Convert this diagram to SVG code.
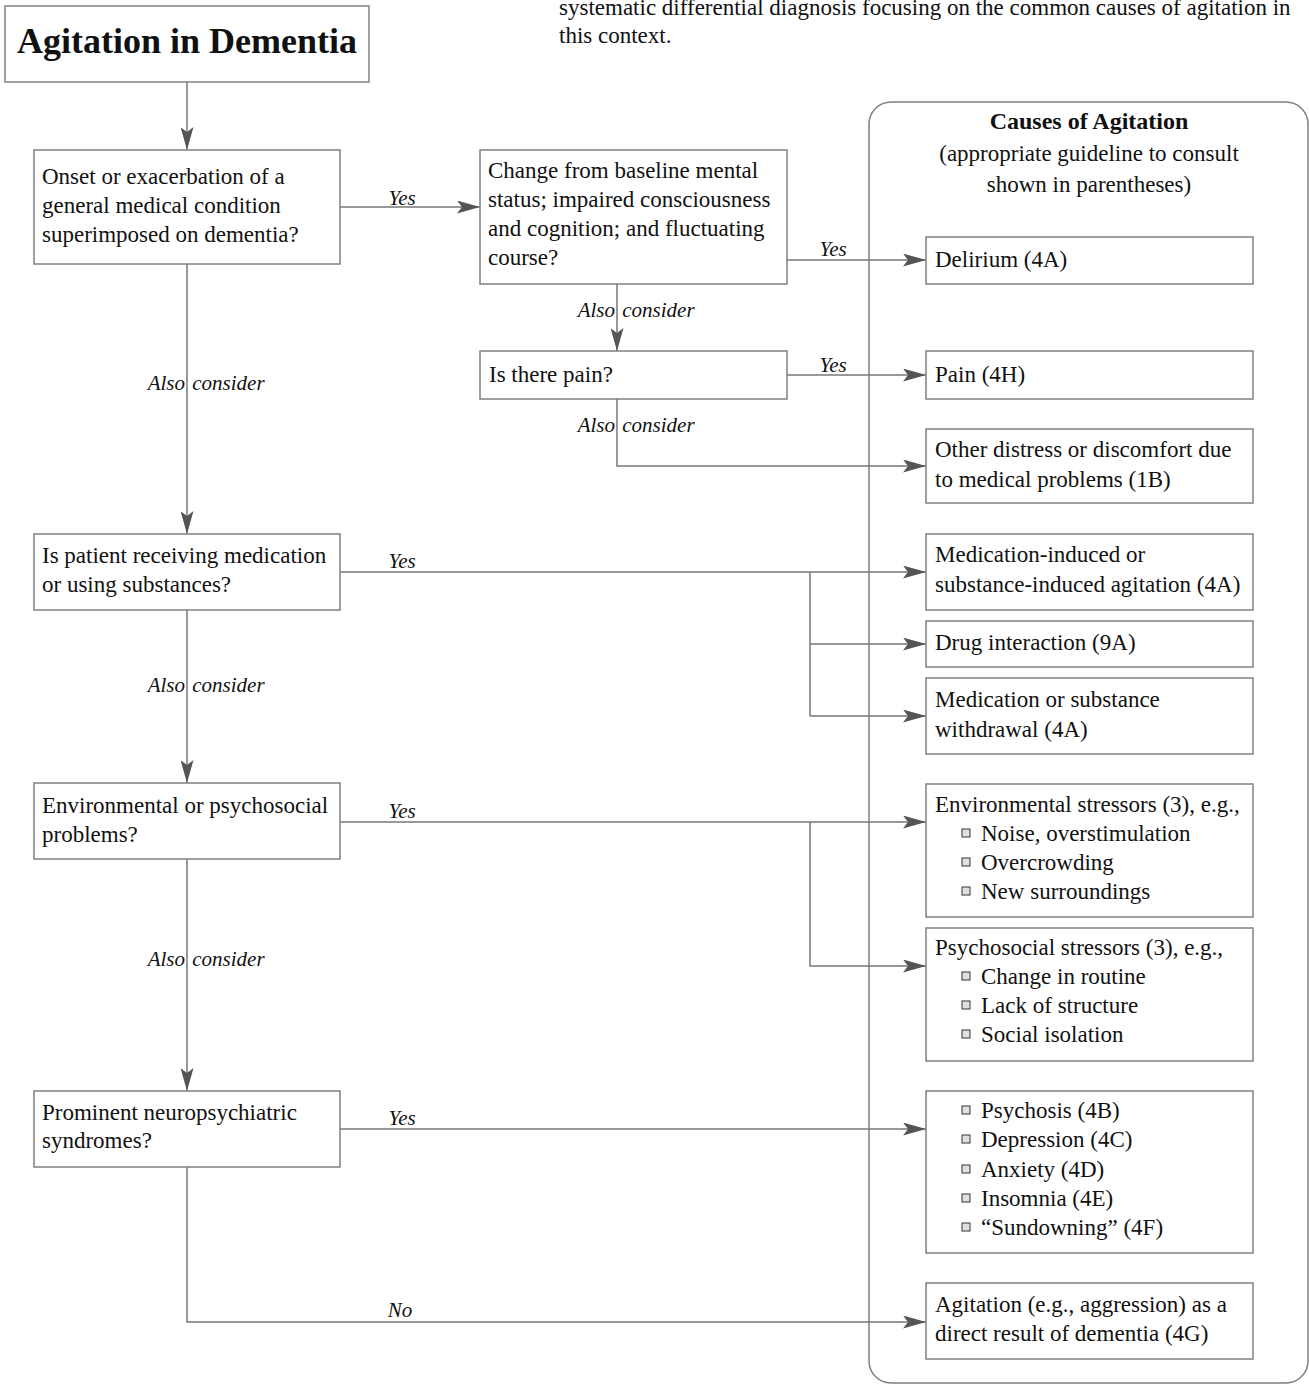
<svg xmlns="http://www.w3.org/2000/svg" width="1309" height="1385" viewBox="0 0 1309 1385">
<style>
.bg{fill:#fff}
.box{fill:#fff;stroke:#808080;stroke-width:1.5}
.panel{fill:none;stroke:#808080;stroke-width:1.5}
.t{font-family:"Liberation Serif","Times New Roman",serif;font-size:23px;fill:#111}
.title{font-family:"Liberation Serif","Times New Roman",serif;font-size:36px;font-weight:bold;fill:#111}
.hd{font-family:"Liberation Serif","Times New Roman",serif;font-size:24px;font-weight:bold;fill:#111}
.lbl{font-family:"Liberation Serif","Times New Roman",serif;font-size:21px;font-style:italic;fill:#111}
.c{fill:none;stroke:#777;stroke-width:1.5}
.bul{fill:#e0e0e0;stroke:#333;stroke-width:1}
</style>
<defs>
<marker id="ah" markerUnits="userSpaceOnUse" viewBox="0 0 23 13" refX="23" refY="6.5" markerWidth="23" markerHeight="13" orient="auto">
<path d="M0,0 L23,6.5 L0,13 L5,6.5 Z" fill="#555"/>
</marker>
</defs>
<rect class="bg" x="0" y="0" width="1309" height="1385"/>

<g id="intro">
<text class="t" x="559" y="15">systematic differential diagnosis focusing on the common causes of agitation in</text>
<text class="t" x="559" y="43">this context.</text>
</g>

<g id="panel">
<rect class="panel" x="869" y="102" width="439" height="1281" rx="22" ry="22"/>
<text class="hd" x="1089" y="129" text-anchor="middle">Causes of Agitation</text>
<text class="t" x="1089" y="161" text-anchor="middle">(appropriate guideline to consult</text>
<text class="t" x="1089" y="192" text-anchor="middle">shown in parentheses)</text>
</g>

<g id="connectors">
<path class="c" d="M187,82 V150" marker-end="url(#ah)"/>
<path class="c" d="M340,207 H480" marker-end="url(#ah)"/>
<path class="c" d="M787,260 H926" marker-end="url(#ah)"/>
<path class="c" d="M617,284 V351" marker-end="url(#ah)"/>
<path class="c" d="M787,375 H926" marker-end="url(#ah)"/>
<path class="c" d="M617,399 V466 H926" marker-end="url(#ah)"/>
<path class="c" d="M187,264 V534" marker-end="url(#ah)"/>
<path class="c" d="M340,572 H926" marker-end="url(#ah)"/>
<path class="c" d="M810,572 V716"/>
<path class="c" d="M810,644 H926" marker-end="url(#ah)"/>
<path class="c" d="M810,716 H926" marker-end="url(#ah)"/>
<path class="c" d="M187,610 V783" marker-end="url(#ah)"/>
<path class="c" d="M340,822 H926" marker-end="url(#ah)"/>
<path class="c" d="M810,822 V966 H926" marker-end="url(#ah)"/>
<path class="c" d="M187,859 V1091" marker-end="url(#ah)"/>
<path class="c" d="M340,1129 H926" marker-end="url(#ah)"/>
<path class="c" d="M187,1167 V1322 H926" marker-end="url(#ah)"/>
<text class="lbl" x="402" y="205" text-anchor="middle">Yes</text>
<text class="lbl" x="833" y="256" text-anchor="middle">Yes</text>
<text class="lbl" x="833" y="372" text-anchor="middle">Yes</text>
<text class="lbl" x="402" y="568" text-anchor="middle">Yes</text>
<text class="lbl" x="402" y="818" text-anchor="middle">Yes</text>
<text class="lbl" x="402" y="1125" text-anchor="middle">Yes</text>
<text class="lbl" x="400" y="1317" text-anchor="middle">No</text>
<text class="lbl" y="317"><tspan x="615" text-anchor="end">Also</tspan><tspan x="617"> consider</tspan></text>
<text class="lbl" y="432"><tspan x="615" text-anchor="end">Also</tspan><tspan x="617"> consider</tspan></text>
<text class="lbl" y="390"><tspan x="185" text-anchor="end">Also</tspan><tspan x="187"> consider</tspan></text>
<text class="lbl" y="692"><tspan x="185" text-anchor="end">Also</tspan><tspan x="187"> consider</tspan></text>
<text class="lbl" y="966"><tspan x="185" text-anchor="end">Also</tspan><tspan x="187"> consider</tspan></text>
</g>

<g id="n-title">
<rect class="box" x="5" y="6" width="364" height="76"/>
<text class="title" x="187" y="53" text-anchor="middle">Agitation in Dementia</text>
</g>

<g id="n-medical">
<rect class="box" x="34" y="150" width="306" height="114"/>
<text class="t" x="42" y="184">Onset or exacerbation of a</text>
<text class="t" x="42" y="213">general medical condition</text>
<text class="t" x="42" y="242">superimposed on dementia?</text>
</g>

<g id="n-change">
<rect class="box" x="480" y="150" width="307" height="134"/>
<text class="t" x="488" y="178">Change from baseline mental</text>
<text class="t" x="488" y="207">status; impaired consciousness</text>
<text class="t" x="488" y="236">and cognition; and fluctuating</text>
<text class="t" x="488" y="265">course?</text>
</g>

<g id="n-painq">
<rect class="box" x="480" y="351" width="307" height="48"/>
<text class="t" x="489" y="382">Is there pain?</text>
</g>

<g id="n-medication">
<rect class="box" x="34" y="534" width="306" height="76"/>
<text class="t" x="42" y="563">Is patient receiving medication</text>
<text class="t" x="42" y="592">or using substances?</text>
</g>

<g id="n-environment">
<rect class="box" x="34" y="783" width="306" height="76"/>
<text class="t" x="42" y="813">Environmental or psychosocial</text>
<text class="t" x="42" y="842">problems?</text>
</g>

<g id="n-neuro">
<rect class="box" x="34" y="1091" width="306" height="76"/>
<text class="t" x="42" y="1120">Prominent neuropsychiatric</text>
<text class="t" x="42" y="1148">syndromes?</text>
</g>

<g id="c-delirium">
<rect class="box" x="926" y="237" width="327" height="47"/>
<text class="t" x="935" y="267">Delirium (4A)</text>
</g>

<g id="c-pain">
<rect class="box" x="926" y="351" width="327" height="48"/>
<text class="t" x="935" y="382">Pain (4H)</text>
</g>

<g id="c-other">
<rect class="box" x="926" y="429" width="327" height="74"/>
<text class="t" x="935" y="457">Other distress or discomfort due</text>
<text class="t" x="935" y="487">to medical problems (1B)</text>
</g>

<g id="c-medinduced">
<rect class="box" x="926" y="534" width="327" height="76"/>
<text class="t" x="935" y="562">Medication-induced or</text>
<text class="t" x="935" y="592">substance-induced agitation (4A)</text>
</g>

<g id="c-drug">
<rect class="box" x="926" y="621" width="327" height="46"/>
<text class="t" x="935" y="650">Drug interaction (9A)</text>
</g>

<g id="c-withdrawal">
<rect class="box" x="926" y="678" width="327" height="76"/>
<text class="t" x="935" y="707">Medication or substance</text>
<text class="t" x="935" y="737">withdrawal (4A)</text>
</g>

<g id="c-envstress">
<rect class="box" x="926" y="784" width="327" height="133"/>
<text class="t" x="935" y="812">Environmental stressors (3), e.g.,</text>
<rect class="bul" x="962" y="829" width="8" height="8"/>
<text class="t" x="981" y="841">Noise, overstimulation</text>
<rect class="bul" x="962" y="858" width="8" height="8"/>
<text class="t" x="981" y="870">Overcrowding</text>
<rect class="bul" x="962" y="887" width="8" height="8"/>
<text class="t" x="981" y="899">New surroundings</text>
</g>

<g id="c-psychstress">
<rect class="box" x="926" y="928" width="327" height="133"/>
<text class="t" x="935" y="955">Psychosocial stressors (3), e.g.,</text>
<rect class="bul" x="962" y="972" width="8" height="8"/>
<text class="t" x="981" y="984">Change in routine</text>
<rect class="bul" x="962" y="1001" width="8" height="8"/>
<text class="t" x="981" y="1013">Lack of structure</text>
<rect class="bul" x="962" y="1030" width="8" height="8"/>
<text class="t" x="981" y="1042">Social isolation</text>
</g>

<g id="c-syndromes">
<rect class="box" x="926" y="1091" width="327" height="162"/>
<rect class="bul" x="962" y="1106" width="8" height="8"/>
<text class="t" x="981" y="1118">Psychosis (4B)</text>
<rect class="bul" x="962" y="1135" width="8" height="8"/>
<text class="t" x="981" y="1147">Depression (4C)</text>
<rect class="bul" x="962" y="1165" width="8" height="8"/>
<text class="t" x="981" y="1177">Anxiety (4D)</text>
<rect class="bul" x="962" y="1194" width="8" height="8"/>
<text class="t" x="981" y="1206">Insomnia (4E)</text>
<rect class="bul" x="962" y="1223" width="8" height="8"/>
<text class="t" x="981" y="1235">“Sundowning” (4F)</text>
</g>

<g id="c-dementia">
<rect class="box" x="926" y="1283" width="327" height="76"/>
<text class="t" x="935" y="1312">Agitation (e.g., aggression) as a</text>
<text class="t" x="935" y="1341">direct result of dementia (4G)</text>
</g>
</svg>
